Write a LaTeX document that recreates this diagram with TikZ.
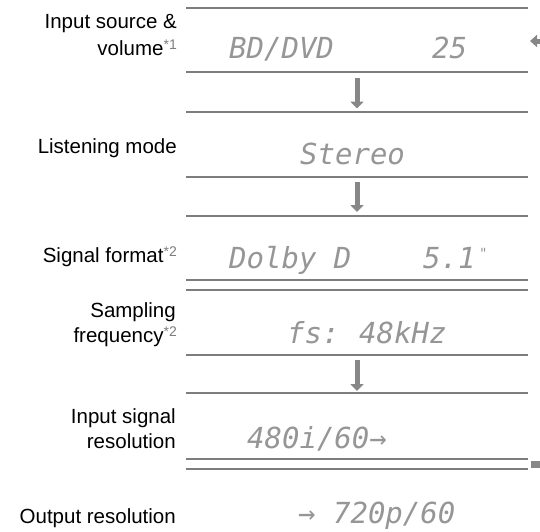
\documentclass[tikz,border=0pt]{standalone}
\usepackage{fontspec}
\setmainfont{Liberation Sans}
\newfontfamily\lcdfont{DejaVu Sans Mono}
\usetikzlibrary{arrows.meta}
\definecolor{rulegray}{RGB}{125,125,125}
\definecolor{arrowgray}{RGB}{135,135,135}
\definecolor{lcdgray}{RGB}{150,150,150}
\definecolor{notegray}{RGB}{125,125,125}
\newcommand{\refmark}[1]{\raisebox{5.5pt}{\fontsize{14}{14}\selectfont\color{notegray}*#1}}
\begin{document}
\begin{tikzpicture}[x=1pt,y=-1pt,
  rule/.style={draw=rulegray, line width=2pt},
  lbl/.style={anchor=base east, inner sep=0pt, font=\fontsize{20.5}{24}\selectfont},
  lcd/.style={anchor=base west, inner sep=0pt, text=lcdgray, font=\lcdfont\itshape\fontsize{29}{30}\selectfont},
  flow/.style={draw=arrowgray, line width=5pt, -{Triangle[width=13pt,length=7pt]}}]
\useasboundingbox (0,0) rectangle (540,531);
% horizontal rules
\foreach \yy in {8,72,112,177,216,280,290,355,393,459,469}
  \draw[rule] (186,\yy) -- (528,\yy);
% labels
\node[lbl] (l1a) at (177,28) {Input source \&};
\node[lbl] (l1b) at (177,55) {volume\refmark{1}};
\node[lbl] (l2) at (177,153) {Listening mode};
\node[lbl] (l3) at (177,262) {Signal format\refmark{2}};
\node[lbl] (l4a) at (176,317) {Sampling};
\node[lbl] (l4b) at (177,342) {frequency\refmark{2}};
\node[lbl] (l5a) at (176,423) {Input signal};
\node[lbl] (l5b) at (176,448) {resolution};
\node[lbl] (l6) at (176,523) {Output resolution};
% display texts
\node[lcd] (src) at (229,58) {BD/DVD};
\node[lcd] (vol) at (432,58) {25};
\node[lcd] (mode) at (300,164) {Stereo};
\node[lcd] (fmt) at (229,268) {Dolby D};
\node[lcd] (ch) at (423,268) {5.1};
\node[lcd, font=\lcdfont\fontsize{14}{14}\selectfont] (chmark) at (479,258) {"};
\node[lcd] (fsl) at (287,343) {fs:};
\node[lcd] (fsv) at (359,343) {48kHz};
\node[lcd] (inres) at (247,448) {480i/60→};
\node[lcd] (outres) at (298,523) {→ 720p/60};
% flow arrows
\coordinate (a1s) at (357,78);  \coordinate (a1e) at (357,108.5);
\coordinate (a2s) at (357,182); \coordinate (a2e) at (357,212);
\coordinate (a3s) at (357,360); \coordinate (a3e) at (357,391);
\draw[flow] (a1s) -- (a1e);
\draw[flow] (a2s) -- (a2e);
\draw[flow] (a3s) -- (a3e);
% right-edge markers
\coordinate (rs) at (543,41); \coordinate (rt) at (530,41);
\draw[draw=arrowgray, line width=5pt, -{Triangle[width=12pt,length=7pt]}] (rs) -- (rt);
\fill[arrowgray] (531,461) rectangle (540,468);
\end{tikzpicture}
\end{document}
